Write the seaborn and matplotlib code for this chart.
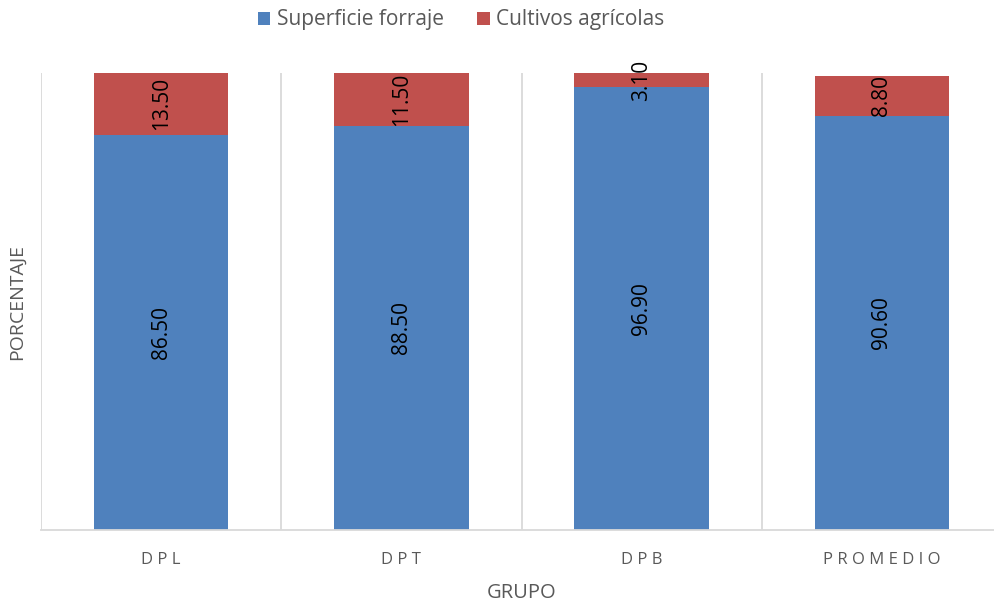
import matplotlib
matplotlib.use("Agg")
import matplotlib.pyplot as plt
import seaborn as sns
import pandas as pd
from matplotlib.patches import Patch

grupos = ["DPL", "DPT", "DPB", "PROMEDIO"]
superficie_forraje = [86.50, 88.50, 96.90, 90.60]
cultivos_agricolas = [13.50, 11.50, 3.10, 8.80]

BLUE = "#4F81BD"
RED = "#C0504D"
GRID = "#D9D9D9"
TEXT = "#595959"

sns.set_theme(style="white")
plt.rcParams["font.family"] = ["Open Sans", "DejaVu Sans"]

df = pd.DataFrame({
    "grupo": grupos,
    "forraje": superficie_forraje,
    "cultivos": cultivos_agricolas,
})
df["total"] = df["forraje"] + df["cultivos"]

fig = plt.figure(figsize=(9.94, 6.05), dpi=100)
ax = fig.add_axes([41 / 994, 1 - 530 / 605, 961 / 994, 457 / 605])

# stacked bars: full height in red, forage share in blue on top of it
sns.barplot(data=df, x="grupo", y="total", color=RED, saturation=1,
            width=0.56, ax=ax, linewidth=0)
sns.barplot(data=df, x="grupo", y="forraje", color=BLUE, saturation=1,
            width=0.56, ax=ax, linewidth=0)

ax.set_ylim(0, 100)
ax.set_xlim(-0.5, len(grupos) - 0.5)

# value labels, rotated and centred in each segment
for i, (f, c) in enumerate(zip(superficie_forraje, cultivos_agricolas)):
    ax.text(i, f / 2, f"{f:.2f}", rotation=90, ha="center", va="center",
            fontsize=15, color="black")
    ax.text(i, f + c / 2, f"{c:.2f}", rotation=90, ha="center", va="center",
            fontsize=15, color="black")

# vertical separators between categories
for x in [k - 0.5 for k in range(len(grupos) + 1)]:
    ax.axvline(x, color=GRID, linewidth=1.3, zorder=0)

for side in ["top", "right", "left"]:
    ax.spines[side].set_visible(False)
ax.spines["bottom"].set_color(GRID)
ax.spines["bottom"].set_linewidth(1.3)

ax.set_yticks([])
ax.set_xticks(range(len(grupos)))
ax.set_xticklabels([" ".join(g) for g in grupos], fontsize=12, color=TEXT)
ax.tick_params(axis="x", length=0, pad=16)

ax.set_xlabel("GRUPO", fontsize=14.5, color=TEXT)
ax.xaxis.set_label_coords(0.5, -0.115)
ax.set_ylabel("PORCENTAJE", fontsize=14, color=TEXT, labelpad=11)

handles = [Patch(facecolor=BLUE, edgecolor="none", label="Superficie forraje"),
           Patch(facecolor=RED, edgecolor="none", label="Cultivos agrícolas")]
fig.legend(handles=handles, loc="center", bbox_to_anchor=(461 / 994, 1 - 20 / 605),
           ncol=2, frameon=False, fontsize=15, labelcolor=TEXT,
           handlelength=0.6, handleheight=0.6, handletextpad=0.3, columnspacing=1.6)

fig.savefig("out.png", dpi=100)
